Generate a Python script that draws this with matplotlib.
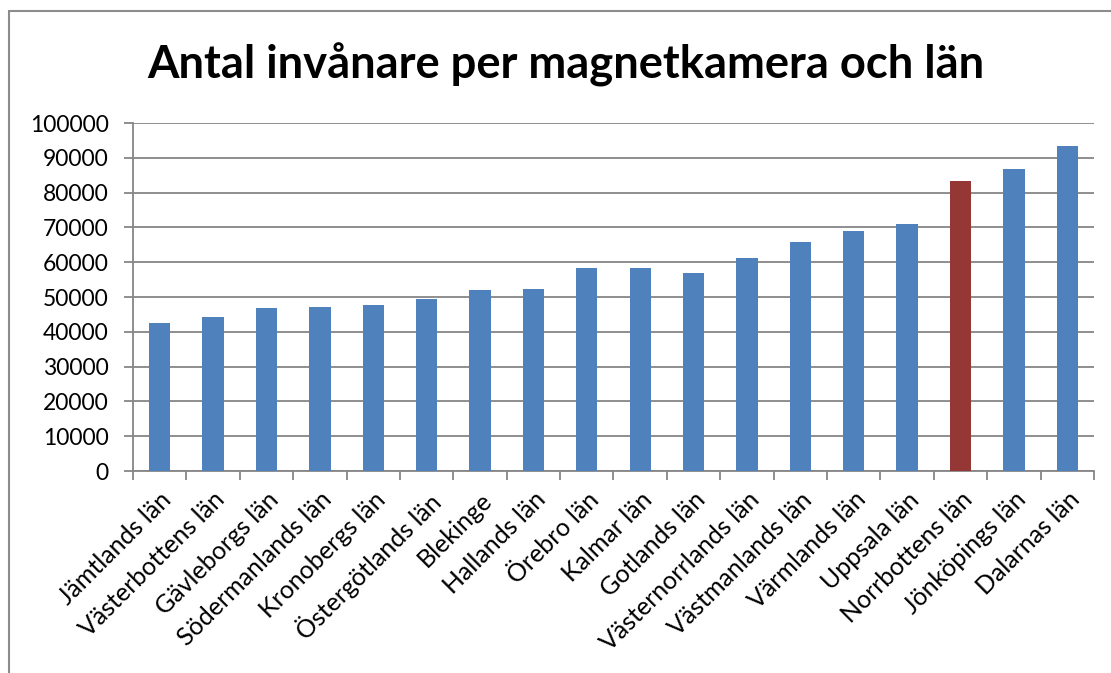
import matplotlib
matplotlib.use('Agg')
import matplotlib.pyplot as plt
import matplotlib.patches as mpatches
import numpy as np

# values
lan = ['Jämtlands län', 'Västerbottens län', 'Gävleborgs län', 'Södermanlands län',
       'Kronobergs län', 'Östergötlands län', 'Blekinge', 'Hallands län',
       'Örebro län', 'Kalmar län', 'Gotlands län', 'Västernorrlands län',
       'Västmanlands län', 'Värmlands län', 'Uppsala län', 'Norrbottens län',
       'Jönköpings län', 'Dalarnas län']
invanare = [42400, 44300, 46900, 47200, 47800, 49300, 52000, 52400,
            58200, 58400, 57000, 61300, 65800, 68900, 70900, 83200,
            86800, 93500]
markerad = 'Norrbottens län'

blue = '#4F81BD'
red = '#953735'
grey = '#868686'

plt.rcParams['font.family'] = ['Lato', 'DejaVu Sans']

fig = plt.figure(figsize=(11.11, 6.73), dpi=100)
ax = fig.add_axes([0.1197, 0.3001, 0.8650, 0.5171])

# chart area border (Excel style)
fig.patches.append(mpatches.Rectangle((9/1111, -0.1), 1.2, 1 - 11/673 + 0.1,
                                      transform=fig.transFigure, fill=False,
                                      edgecolor='#8c8c8c', linewidth=1.5))

x = np.arange(len(lan))
colors = [red if l == markerad else blue for l in lan]
ax.bar(x, invanare, width=0.4, color=colors, zorder=3)

ax.set_xlim(-0.5, len(lan) - 0.5)
ax.set_ylim(0, 100000)
ax.set_yticks(np.arange(0, 100001, 10000))
ax.set_yticklabels([str(v) for v in range(0, 100001, 10000)], fontsize=16.5)
ax.yaxis.grid(True, color=grey, linewidth=1.3, zorder=0)

ax.set_xticks(x)
ax.set_xticklabels(lan, rotation=45, ha='right', rotation_mode='anchor', fontsize=18)
ax.tick_params(axis='x', length=0, pad=12)
ax.set_xticks(np.arange(-0.5, len(lan), 1), minor=True)
ax.tick_params(axis='x', which='minor', length=6.5, color=grey, width=1.3)
ax.tick_params(axis='y', length=6.5, color=grey, width=1.3, pad=11)

for s in ['top', 'right']:
    ax.spines[s].set_visible(False)
for s in ['left', 'bottom']:
    ax.spines[s].set_color(grey)
    ax.spines[s].set_linewidth(1.3)

fig.text(0.509, 0.883, 'Antal invånare per magnetkamera och län', ha='center', va='baseline',
         fontsize=32.7, fontweight='bold')

fig.savefig('out.png', dpi=100)
